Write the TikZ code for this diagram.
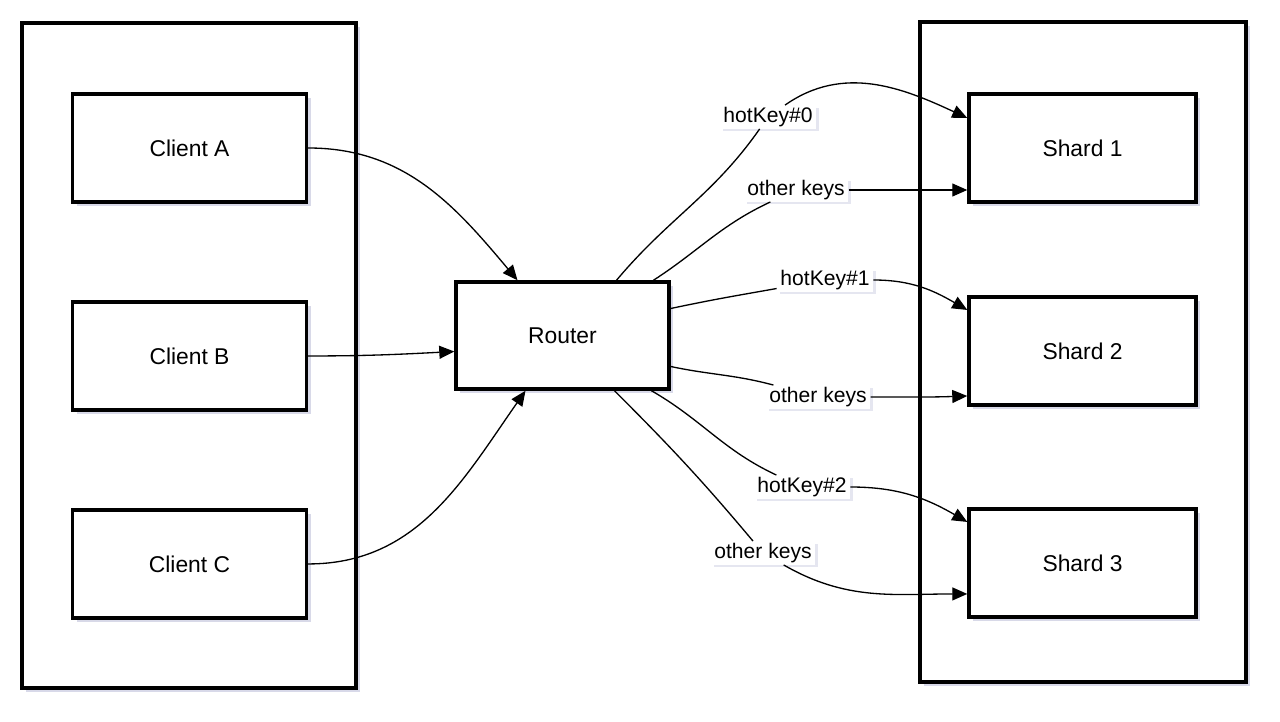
\documentclass[tikz,border=0pt]{standalone}
\usepackage{fontspec}
\setmainfont{Liberation Sans}
\usetikzlibrary{positioning, arrows.meta, calc, shadows}
\definecolor{shadowgray}{RGB}{190,192,218}

\begin{document}
\begin{tikzpicture}[
    x=0.02cm, y=-0.02cm,
    font=\fontsize{13}{15}\selectfont,
    soft shadow/.style={
        drop shadow={shadow xshift=2.5pt, shadow yshift=-2.5pt,
                     fill=shadowgray, opacity=0.6}
    },
    group/.style={
        draw, line width=2pt,
        fill=white, soft shadow
    },
    box/.style={
        draw, line width=2pt,
        fill=white, soft shadow,
        minimum width=4.6cm,
        minimum height=2.16cm
    },
    lbl/.style={
        fill=white,
        drop shadow={shadow xshift=1.5pt, shadow yshift=-1.5pt,
                     fill=shadowgray, opacity=0.4},
        font=\fontsize{12}{14}\selectfont,
        inner xsep=2pt, inner ysep=1pt
    },
    arrow/.style={-{Triangle[length=0.3cm, width=0.26cm]}, line width=0.75pt}
]
\useasboundingbox (0,0) rectangle (1280,722);

% ===================== GROUPS =====================
\node[group, minimum width=6.68cm, minimum height=13.3cm] (clients) at (189,355.5) {};
\node[group, minimum width=6.52cm, minimum height=13.2cm] (shards) at (1083,352) {};

% ===================== CLIENTS =====================
\node[box, minimum width=4.68cm] (clientA) at (189.5,148) {Client A};
\node[box, minimum width=4.68cm, below=1.93cm of clientA] (clientB) {Client B};
\node[box, minimum width=4.68cm, below=1.93cm of clientB] (clientC) {Client C};

% ===================== ROUTER =====================
\node[box, minimum width=4.26cm, minimum height=2.14cm] (router) at (562.5,335.5) {Router};

% ===================== SHARDS =====================
\node[box, minimum width=4.54cm] (shard1) at (1082.5,148) {Shard 1};
\node[box, minimum width=4.54cm, below=1.83cm of shard1] (shard2) {Shard 2};
\node[box, minimum width=4.54cm, below=2.01cm of shard2] (shard3) {Shard 3};

% ===================== KEY LABELS =====================
\node[lbl] (hk0) at (768,117) {hotKey\#0};
\node[lbl] (ok1) at (796,190) {other keys};
\node[lbl] (hk1) at (825,280) {hotKey\#1};
\node[lbl] (ok2) at (818,397) {other keys};
\node[lbl] (hk2) at (802,487) {hotKey\#2};
\node[lbl] (ok3) at (763,553) {other keys};

% ===================== CLIENTS -> ROUTER =====================
\draw[arrow] (clientA.east) to[out=0, in=130] ($(router.north)+(-45,0)$);
\draw[arrow] (clientB.east) to[out=0, in=183] ($(router.west)+(0,16)$);
\draw[arrow] (clientC.east) to[out=0, in=235] ($(router.south)+(-37,0)$);

% ===================== ROUTER -> SHARDS =====================
% shard 1
\draw[line width=0.75pt] ($(router.north)+(54,0)$) to[out=50, in=235] (hk0);
\draw[arrow] (hk0) to[out=35, in=155] ($(shard1.west)+(0,-30)$);
\draw[line width=0.75pt] ($(router.north)+(91,0)$) to[out=33, in=205] (ok1);
\draw[arrow] (ok1) to[out=0, in=180] ($(shard1.west)+(0,42)$);

% shard 2
\draw[line width=0.75pt] ($(router.east)+(0,-27)$) to[out=12, in=190] (hk1);
\draw[arrow] (hk1) to[out=0, in=150] ($(shard2.west)+(0,-41)$);
\draw[line width=0.75pt] ($(router.east)+(0,31)$) to[out=-12, in=165] (ok2);
\draw[arrow] (ok2) to[out=0, in=182] ($(shard2.west)+(0,45)$);

% shard 3
\draw[line width=0.75pt] ($(router.south)+(89,0)$) to[out=-30, in=155] (hk2);
\draw[arrow] (hk2) to[out=0, in=150] ($(shard3.west)+(0,-41)$);
\draw[line width=0.75pt] ($(router.south)+(52,0)$) to[out=-45, in=130] (ok3);
\draw[arrow] (ok3) to[out=-30, in=180] ($(shard3.west)+(0,31)$);

\end{tikzpicture}
\end{document}
